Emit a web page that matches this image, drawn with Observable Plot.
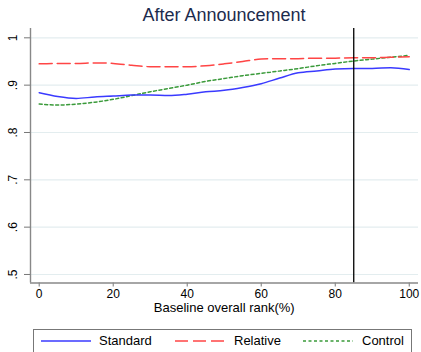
<!DOCTYPE html>
<html>
<head>
<meta charset="utf-8">
<script src="https://cdn.jsdelivr.net/npm/d3@7"></script>
<script src="https://cdn.jsdelivr.net/npm/@observablehq/plot@0.6"></script>
<style>
  html, body { margin: 0; padding: 0; background: #fff; }
  #wrap { position: relative; width: 421px; height: 352px; overflow: hidden; font-family: "Liberation Sans", Arial, sans-serif; }
  #title { position: absolute; left: 30px; width: 388px; top: 3px; text-align: center; font-size: 18px; color: #1c2b4d; line-height: 24px; }
  #chart { position: absolute; left: 0; top: 0; }
  #legend { position: absolute; left: 33px; top: 329px; width: 379px; height: 40px; border: 1px solid #777; box-sizing: border-box; }
  .item { position: absolute; top: 5px; font-size: 13px; color: #000; line-height: 16px; }
  .item svg { position: absolute; left: 0; top: 0; }
  .item span { position: absolute; white-space: nowrap; }
</style>
</head>
<body>
<div id="wrap">
  <div id="chart"></div>
  <div id="title">After Announcement</div>
  <div id="legend"></div>
</div>
<script>
const rank = [0, 5, 10, 15, 20, 25, 30, 35, 40, 45, 50, 55, 60, 65, 70, 75, 80, 85, 90, 95, 100];
const standard = [0.884, 0.876, 0.872, 0.875, 0.877, 0.879, 0.879, 0.878, 0.881, 0.886, 0.889, 0.895, 0.903, 0.915, 0.926, 0.930, 0.934, 0.935, 0.935, 0.937, 0.933];
const relative = [0.945, 0.946, 0.946, 0.947, 0.946, 0.942, 0.939, 0.939, 0.939, 0.941, 0.945, 0.950, 0.955, 0.956, 0.956, 0.957, 0.957, 0.958, 0.958, 0.959, 0.960];
const control = [0.860, 0.858, 0.860, 0.864, 0.870, 0.878, 0.886, 0.893, 0.900, 0.908, 0.914, 0.920, 0.925, 0.930, 0.935, 0.941, 0.946, 0.951, 0.955, 0.959, 0.963];
const seriesNames = ["Standard", "Relative", "Control"];
const seriesColors = ["#3a3aff", "#ff4545", "#3a9a3a"];
const seriesDash = [null, "13,5", "3,2.5"];
const xTicks = [0, 20, 40, 60, 80, 100];
const yTicks = [0.5, 0.6, 0.7, 0.8, 0.9, 1];
const yTickLabels = [".5", ".6", ".7", ".8", ".9", "1"];
const cutoff = 85;

const seriesValues = [standard, relative, control];
const rows = [];
seriesNames.forEach((name, i) => rank.forEach((r, j) => rows.push({series: name, rank: r, value: seriesValues[i][j]})));
const yTickRows = yTicks.map((v, i) => ({v, label: yTickLabels[i]}));

const xDomain = [-2.35, 102.5];
const yDomain = [0.482, 1.0197];

const marks = [
  Plot.gridY(yTicks, {stroke: "#e3edef", strokeOpacity: 1, strokeWidth: 1}),
  Plot.tickY(yTicks, {y: d => d, stroke: "#777", strokeWidth: 1, dx: -3, ...{}}),
];

const chart = Plot.plot({
  width: 421,
  height: 323,
  marginLeft: 30,
  marginRight: 3,
  marginTop: 28,
  marginBottom: 40.5,
  style: {fontFamily: "Liberation Sans, Arial, sans-serif", background: "white"},
  x: {domain: xDomain, axis: null},
  y: {domain: yDomain, axis: null},
  marks: [
    Plot.gridY(yTicks, {stroke: "#e3edef", strokeOpacity: 1, strokeWidth: 1.2}),
    Plot.axisY(yTicks, {tickSize: 6, tickFormat: () => "", label: null, stroke: "#777", strokeWidth: 1}),
    Plot.axisX(xTicks, {tickSize: 4, tickFormat: () => "", label: null, stroke: "#777", strokeWidth: 1}),
    Plot.text(yTickRows, {y: "v", text: "label", frameAnchor: "left", dx: -17, rotate: -90, textAnchor: "middle", fontSize: 12, fill: "#000"}),
    Plot.text(xTicks, {x: d => d, text: d => String(d), frameAnchor: "bottom", dy: 14.5, textAnchor: "middle", fontSize: 12, fill: "#000"}),
    Plot.text(["Baseline overall rank(%)"], {x: 50, text: d => d, frameAnchor: "bottom", dy: 29.3, textAnchor: "middle", fontSize: 13, fill: "#000"}),
    Plot.line(rows.filter(d => d.series === "Control"), {x: "rank", y: "value", stroke: seriesColors[2], strokeWidth: 1.5, strokeDasharray: seriesDash[2], curve: "monotone-x"}),
    Plot.line(rows.filter(d => d.series === "Relative"), {x: "rank", y: "value", stroke: seriesColors[1], strokeWidth: 1.5, strokeDasharray: seriesDash[1], curve: "monotone-x"}),
    Plot.line(rows.filter(d => d.series === "Standard"), {x: "rank", y: "value", stroke: seriesColors[0], strokeWidth: 1.5, curve: "monotone-x"}),
    Plot.ruleX([cutoff], {stroke: "#000", strokeWidth: 1.3}),
    Plot.ruleX([xDomain[0]], {stroke: "#888", strokeWidth: 1.4}),
    Plot.ruleY([yDomain[0]], {stroke: "#888", strokeWidth: 1.4})
  ]
});
document.getElementById("chart").appendChild(chart);

// legend
const legend = document.getElementById("legend");
const lineX = [7, 141, 269];
const textX = [65, 200, 328];
seriesNames.forEach((name, i) => {
  const sw = document.createElementNS("http://www.w3.org/2000/svg", "svg");
  sw.setAttribute("width", 52);
  sw.setAttribute("height", 20);
  sw.style.position = "absolute";
  sw.style.left = lineX[i] + "px";
  sw.style.top = "1px";
  const ln = document.createElementNS("http://www.w3.org/2000/svg", "line");
  ln.setAttribute("x1", 0); ln.setAttribute("x2", 50);
  ln.setAttribute("y1", 10); ln.setAttribute("y2", 10);
  ln.setAttribute("stroke", seriesColors[i]);
  ln.setAttribute("stroke-width", 1.5);
  if (seriesDash[i]) ln.setAttribute("stroke-dasharray", seriesDash[i]);
  sw.appendChild(ln);
  legend.appendChild(sw);
  const t = document.createElement("div");
  t.textContent = name;
  t.style.position = "absolute";
  t.style.left = textX[i] + "px";
  t.style.top = "3px";
  t.style.fontSize = "13px";
  t.style.lineHeight = "16px";
  legend.appendChild(t);
});
</script>
</body>
</html>
